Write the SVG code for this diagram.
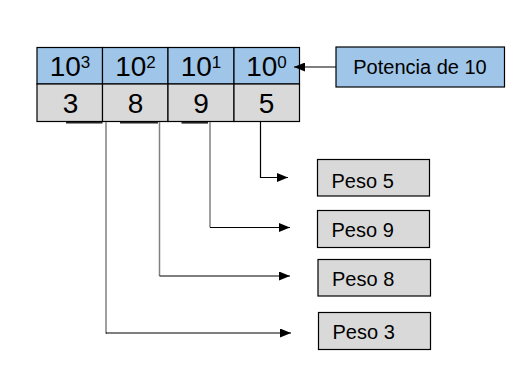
<svg xmlns="http://www.w3.org/2000/svg" width="528" height="389" viewBox="0 0 528 389">
<style>
.t{font-family:"Liberation Sans",Arial,sans-serif;fill:#000}
.blue{fill:#9fc5e8;stroke:#000;stroke-width:1.2}
.grey{fill:#d9d9d9;stroke:#000;stroke-width:1.2}
.big{font-size:28px}
.sup{font-size:17px}
.dig{font-size:28px}
.lbl{font-size:20px}
.g{stroke:#808080;stroke-width:1.5;fill:none}
.k{stroke:#000;stroke-width:1.2;fill:none}
</style>
<defs>
<marker id="ah" markerWidth="11" markerHeight="9" refX="11" refY="4.5" orient="auto" markerUnits="userSpaceOnUse">
<path d="M0,0 L11,4.5 L0,9 Z" fill="#000"/>
</marker>
</defs>
<rect width="528" height="389" fill="#fff"/>
<g id="table">
<rect class="blue" x="37" y="47.5" width="65.5" height="36.5"/>
<rect class="blue" x="102.5" y="47.5" width="65.5" height="36.5"/>
<rect class="blue" x="168" y="47.5" width="66" height="36.5"/>
<rect class="blue" x="234" y="47.5" width="65.5" height="36.5"/>
<rect class="grey" x="37" y="84" width="65.5" height="37.5"/>
<rect class="grey" x="102.5" y="84" width="65.5" height="37.5"/>
<rect class="grey" x="168" y="84" width="66" height="37.5"/>
<rect class="grey" x="234" y="84" width="65.5" height="37.5"/>
<text class="t" x="70" y="75.5" text-anchor="middle"><tspan class="big">10</tspan><tspan class="sup" dy="-8">3</tspan></text>
<text class="t" x="135.5" y="75.5" text-anchor="middle"><tspan class="big">10</tspan><tspan class="sup" dy="-8">2</tspan></text>
<text class="t" x="201" y="75.5" text-anchor="middle"><tspan class="big">10</tspan><tspan class="sup" dy="-8">1</tspan></text>
<text class="t" x="266.5" y="75.5" text-anchor="middle"><tspan class="big">10</tspan><tspan class="sup" dy="-8">0</tspan></text>
<text class="t dig" x="70.5" y="113" text-anchor="middle">3</text>
<text class="t dig" x="135.5" y="113" text-anchor="middle">8</text>
<text class="t dig" x="201" y="113" text-anchor="middle">9</text>
<text class="t dig" x="266.5" y="113" text-anchor="middle">5</text>
</g>
<g id="potencia">
<rect class="blue" x="336" y="47" width="168.5" height="40"/>
<text class="t lbl" x="420" y="73.5" text-anchor="middle" font-size="20.5">Potencia de 10</text>
</g>
<g id="peso5">
<rect class="grey" x="317.5" y="159.5" width="112" height="36.5"/>
<text class="t lbl" x="331.5" y="187.5">Peso 5</text>
</g>
<g id="peso9">
<rect class="grey" x="317.5" y="210.5" width="112" height="37"/>
<text class="t lbl" x="331.5" y="236.5">Peso 9</text>
</g>
<g id="peso8">
<rect class="grey" x="318" y="259.5" width="112.5" height="36.5"/>
<text class="t lbl" x="332" y="285.5">Peso 8</text>
</g>
<g id="peso3">
<rect class="grey" x="318.5" y="312.5" width="112" height="37"/>
<text class="t lbl" x="332.5" y="338.5">Peso 3</text>
</g>
<g id="connectors">
<line x1="336" y1="67" x2="294" y2="67" class="k" marker-end="url(#ah)"/>
<line x1="66" y1="122.8" x2="102.5" y2="122.8" stroke="#222" stroke-width="1.6"/>
<line x1="120" y1="122.8" x2="158" y2="122.8" stroke="#222" stroke-width="1.6"/>
<line x1="181.5" y1="122.8" x2="208" y2="122.8" stroke="#222" stroke-width="1.6"/>
<polyline class="g" points="106,122 106,333 107,333"/>
<line x1="106" y1="333" x2="291" y2="333" class="k" marker-end="url(#ah)"/>
<polyline class="g" points="159.5,122 159.5,276"/>
<line x1="159.5" y1="276" x2="290" y2="276" class="k" marker-end="url(#ah)"/>
<polyline class="g" points="210,122 210,227.5"/>
<line x1="210" y1="227.5" x2="290" y2="227.5" class="k" marker-end="url(#ah)"/>
<polyline class="k" points="260.5,122 260.5,177.5 288,177.5" marker-end="url(#ah)"/>
</g>
</svg>
